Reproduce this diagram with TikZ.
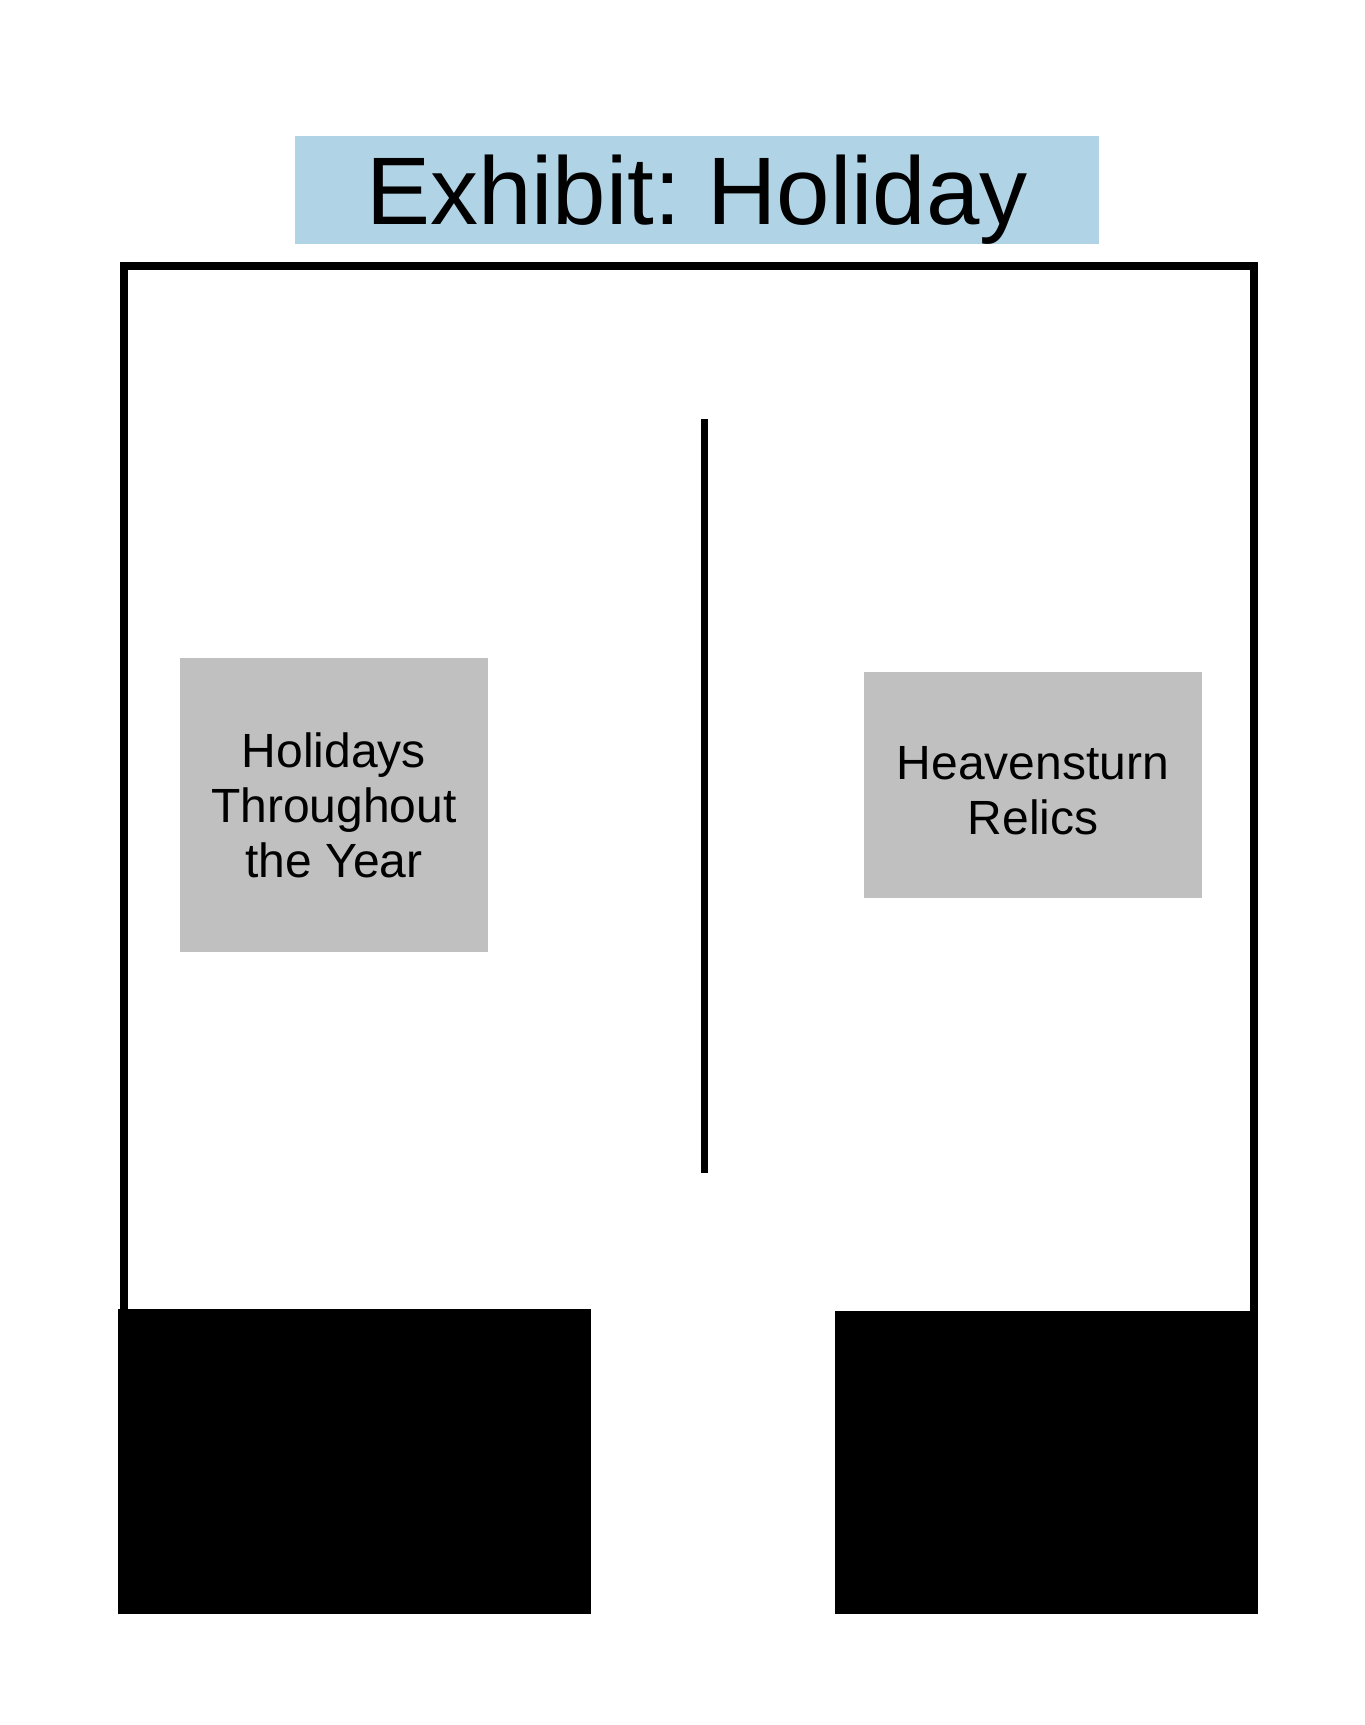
\documentclass[tikz,border=0pt]{standalone}
\usepackage{fontspec}
\setmainfont{Liberation Sans}
\usetikzlibrary{positioning}
\frenchspacing

\definecolor{titleblue}{RGB}{176,212,230}
\definecolor{standgray}{RGB}{192,192,192}

\begin{document}
\begin{tikzpicture}[x=0.5pt, y=-0.5pt, semithick]

%====Stili========================================================

	\tikzstyle{title}=[fill=titleblue, inner sep=0pt, minimum width=402pt, minimum height=54pt, text depth=0pt, font=\fontsize{48}{56}\selectfont]
	\tikzstyle{stand}=[fill=standgray, inner sep=0pt, align=center, font=\fontsize{24}{27.5}\selectfont]
	\tikzstyle{block}=[fill=black, inner sep=0pt]
	\tikzstyle{wall}=[draw=black, line width=4pt, miter limit=10]

	\useasboundingbox (0,0) rectangle (1365,1725);

%====Titolo e stand==============================================

	\node[title]                                            (T)  at (697,190)    {Exhibit: Holiday};
	\node[stand, minimum width=154pt, minimum height=147pt] (S1) at (334,805)    {Holidays\\Throughout\\the Year};
	\node[stand, minimum width=169pt, minimum height=113pt, text height=49.5pt] (S2) at (1033,785) {Heavensturn\\Relics};
	\node[block, minimum width=236.5pt, minimum height=152.5pt] (B1) at (354.5,1461.5) {};
	\node[block, minimum width=211.5pt, minimum height=151.5pt] (B2) at (1046.5,1462.5) {};

%====Pareti========================================================

	\coordinate (WL) at (124,1309);
	\coordinate (WR) at (1254,1311);
	\coordinate (DT) at (704,419);
	\coordinate (DB) at (704,1173);

	\draw[wall] (WL) |- (700,266) -| (WR);
	\draw[line width=3.5pt] (DT) -- (DB);

\end{tikzpicture}
\end{document}
